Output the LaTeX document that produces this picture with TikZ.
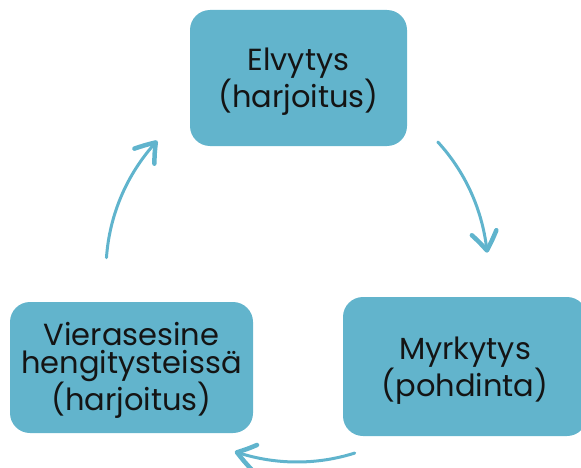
\documentclass[tikz,border=0pt]{standalone}
\usepackage{fontspec}
\setmainfont{Poppins}
\usetikzlibrary{arrows.meta,bending}

\definecolor{boxfill}{RGB}{98,180,204}
\definecolor{arrowcol}{RGB}{96,180,205}
\definecolor{txt}{RGB}{20,20,20}

\tikzset{
  stage/.style={fill=boxfill, rounded corners=20pt, inner sep=0pt},
  stagetext/.style={inner sep=0pt, text=txt, align=center,
    font=\fontsize{30.5pt}{27.5pt}\selectfont},
  cyclearrow/.style={draw=arrowcol, line width=3pt, line cap=round,
    -{Straight Barb[length=18pt,width=25pt,line width=4.5pt,round,bend]}}
}

\begin{document}
\begin{tikzpicture}[x=1pt,y=1pt]
  \useasboundingbox (0,0) rectangle (581,467);

  % the three stages of the cycle
  \node[stage, minimum width=217pt, minimum height=136pt] (elvytys) at (298.5,389) {};
  \node[stage, minimum width=244pt, minimum height=139pt] (myrkytys) at (465,100.5) {};
  \node[stage, minimum width=243pt, minimum height=131pt] (vierasesine) at (131.5,99.5) {};

  \node[stagetext] (elvytys-t) at ([yshift=-4pt]elvytys.center) {Elvytys\\(harjoitus)};
  \node[stagetext] (myrkytys-t) at ([yshift=-4pt]myrkytys.center) {Myrkytys\\(pohdinta)};
  \node[stagetext] (vierasesine-t) at ([yshift=-3pt]vierasesine.center)
    {Vierasesine\\hengitysteissä\\(harjoitus)};

  % curved arrows on a common circle around the centre
  \coordinate (hub) at (297,196);
  \draw[cyclearrow] ([shift={(42.5:191)}]hub) arc[start angle=42.5, end angle=5.5, radius=191];
  \draw[cyclearrow] ([shift={(-72.4:191)}]hub) arc[start angle=-72.4, end angle=-109, radius=191];
  \draw[cyclearrow] ([shift={(176:191)}]hub) arc[start angle=176, end angle=137, radius=191];
\end{tikzpicture}
\end{document}
